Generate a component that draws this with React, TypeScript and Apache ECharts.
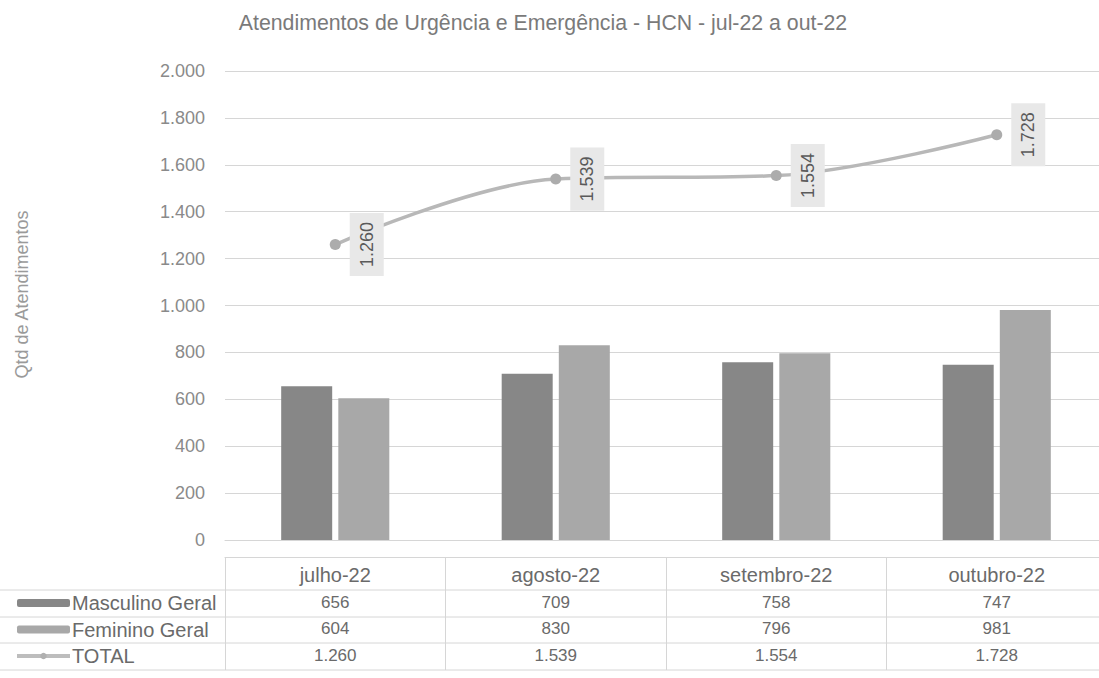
import React, { useEffect, useRef } from "react";
import * as echarts from "echarts";

const categories = ["julho-22", "agosto-22", "setembro-22", "outubro-22"];
const masculino = [656, 709, 758, 747];
const feminino = [604, 830, 796, 981];
const total = [1260, 1539, 1554, 1728];
const yTicks = { min: 0, max: 2000, interval: 200 };

const fmt = (n: number) => String(n).replace(/\B(?=(\d{3})+(?!\d))/g, ".");

export default function App() {
  const ref = useRef<HTMLDivElement>(null);
  useEffect(() => {
    if (!ref.current) return;
    const chart = echarts.init(ref.current, null, { renderer: "svg" });
    const font = "Liberation Sans, Arial, sans-serif";
    const lineColor = "#d6d6d6";
    const txt = "#6a6a6a";
    chart.setOption({
      animation: false,
      backgroundColor: "#ffffff",
      textStyle: { fontFamily: font },
      title: {
        text: "Atendimentos de Urgência e Emergência - HCN - jul-22 a out-22",
        left: 538,
        textAlign: "center",
        top: 7,
        textStyle: { fontSize: 21.3, fontWeight: "normal", color: "#7a7a7a", fontFamily: font },
      },
      legend: {
        orient: "vertical",
        left: 15,
        top: 592,
        padding: 0,
        itemWidth: 53,
        itemHeight: 8,
        itemGap: 4.5,
        textStyle: { fontSize: 20, color: txt, lineHeight: 22, fontFamily: font, padding: [0, 0, 0, -3] },
        data: [
          { name: "Masculino Geral" },
          { name: "Feminino Geral" },
          { name: "TOTAL", lineStyle: { width: 4, color: "#bdbdbd" }, itemStyle: { color: "#b0b0b0" } },
        ],
      },
      grid: { left: 225, top: 71, width: 882, height: 469, containLabel: false },
      xAxis: [
        {
          type: "category",
          data: categories,
          axisLine: { show: true, lineStyle: { color: lineColor } },
          axisTick: { show: false },
          axisLabel: {
            interval: 0,
            margin: 20,
            formatter: (v: string, i: number) =>
              `{h|${v}}\n{v|${fmt(masculino[i])}}\n{v|${fmt(feminino[i])}}\n{v|${fmt(total[i])}}`,
            rich: {
              h: { fontSize: 20, color: txt, lineHeight: 29, fontFamily: font },
              v: { fontSize: 17, color: txt, lineHeight: 26.5, fontFamily: font },
            },
          },
        },
        {
          type: "category",
          data: categories,
          position: "bottom",
          offset: 17,
          axisLine: { show: true, lineStyle: { color: lineColor } },
          axisTick: { show: true, interval: 0, length: 113, lineStyle: { color: lineColor } },
          axisLabel: { show: false },
        },
      ],
      yAxis: {
        type: "value",
        min: yTicks.min,
        max: yTicks.max,
        interval: yTicks.interval,
        name: "Qtd de Atendimentos",
        nameLocation: "middle",
        nameGap: 194,
        nameTextStyle: { fontSize: 18, color: "#9a9a9a", fontFamily: font, padding: [0, 0, 0, 22] },
        axisLine: { show: false },
        axisTick: { show: false },
        axisLabel: { margin: 20, fontSize: 18, color: "#8a8a8a", formatter: (v: number) => fmt(v) },
        splitLine: { lineStyle: { color: lineColor } },
      },
      series: [
        {
          name: "Masculino Geral",
          type: "bar",
          data: masculino,
          barWidth: 51,
          barGap: "12%",
          itemStyle: { color: "#878787" },
        },
        {
          name: "Feminino Geral",
          type: "bar",
          data: feminino,
          barWidth: 51,
          barGap: "12%",
          itemStyle: { color: "#a8a8a8" },
        },
        {
          name: "TOTAL",
          type: "line",
          data: total,
          smooth: 0.35,
          symbol: "circle",
          symbolSize: 11,
          lineStyle: { color: "#b8b8b8", width: 3.5 },
          itemStyle: { color: "#acacac" },
          label: {
            show: true,
            position: "right",
            distance: 26,
            rotate: 90,
            align: "center",
            verticalAlign: "middle",
            formatter: (p: any) => fmt(p.value),
            fontSize: 18,
            color: "#5a5a5a",
            backgroundColor: "#e8e8e8",
            padding: [8, 9],
            fontFamily: font,
          },
          z: 5,
        },
      ],
      graphic: [
        { type: "line", shape: { x1: 0, y1: 590, x2: 1110, y2: 590 }, style: { stroke: lineColor, lineWidth: 1 } },
        { type: "line", shape: { x1: 0, y1: 617, x2: 1110, y2: 617 }, style: { stroke: lineColor, lineWidth: 1 } },
        { type: "line", shape: { x1: 0, y1: 643, x2: 1110, y2: 643 }, style: { stroke: lineColor, lineWidth: 1 } },
        { type: "line", shape: { x1: 0, y1: 670, x2: 1110, y2: 670 }, style: { stroke: lineColor, lineWidth: 1 } },
      ],
    });
    return () => chart.dispose();
  }, []);
  return (
    <div
      ref={ref}
      style={{ position: "fixed", left: 0, top: 0, width: 1110, height: 678, background: "#fff" }}
    />
  );
}
